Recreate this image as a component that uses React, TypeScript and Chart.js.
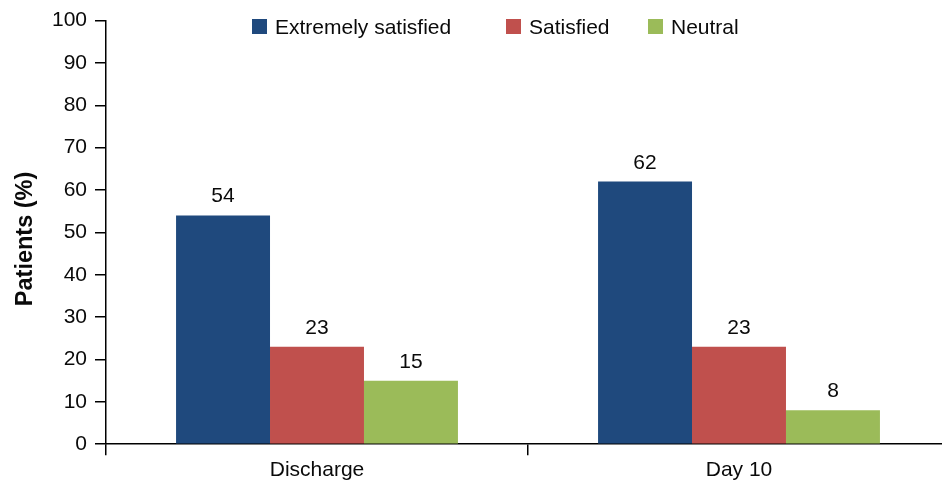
import React, { useEffect, useRef } from 'react';
import { Chart, registerables } from 'chart.js';

Chart.register(...registerables);

const FONT = '"Liberation Sans", Arial, Helvetica, sans-serif';

const CATEGORIES = ['Discharge', 'Day 10'];
const SERIES_NAMES = ['Extremely satisfied', 'Satisfied', 'Neutral'];
const EXTREMELY_SATISFIED = [54, 62];
const SATISFIED = [23, 23];
const NEUTRAL = [15, 8];
const SERIES_COLORS = ['#1F497D', '#C0504D', '#9BBB59'];
const Y_MIN = 0;
const Y_MAX = 100;
const Y_STEP = 10;
const Y_TITLE = 'Patients (%)';

const LEGEND_LEFT = [252, 506, 648];
const TEXT_COLOR = '#0a0a0a';

const valueLabels = {
  id: 'valueLabels',
  afterDatasetsDraw(chart: any) {
    const ctx = chart.ctx;
    ctx.save();
    ctx.font = `21px ${FONT}`;
    ctx.fillStyle = TEXT_COLOR;
    ctx.textAlign = 'center';
    ctx.textBaseline = 'alphabetic';
    chart.data.datasets.forEach((ds: any, i: number) => {
      const meta = chart.getDatasetMeta(i);
      meta.data.forEach((bar: any, j: number) => {
        ctx.fillText(String(ds.data[j]), bar.x, bar.y - 13);
      });
    });
    ctx.restore();
  },
};

export default function App() {
  const canvasRef = useRef<HTMLCanvasElement | null>(null);

  useEffect(() => {
    if (!canvasRef.current) return;
    const seriesData = [EXTREMELY_SATISFIED, SATISFIED, NEUTRAL];
    const chart = new Chart(canvasRef.current, {
      type: 'bar',
      data: {
        labels: CATEGORIES,
        datasets: SERIES_NAMES.map((name, i) => ({
          label: name,
          data: seriesData[i],
          backgroundColor: SERIES_COLORS[i],
          borderWidth: 0,
          categoryPercentage: 0.668,
          barPercentage: 1,
        })),
      },
      options: {
        responsive: false,
        animation: false,
        devicePixelRatio: 1,
        layout: { padding: { top: 19, left: 0, right: 0, bottom: 0 } },
        plugins: {
          legend: { display: false },
          tooltip: { enabled: false },
        },
        scales: {
          x: {
            grid: {
              display: true,
              drawOnChartArea: false,
              tickLength: 11,
              color: '#000',
              lineWidth: 1.5,
              offset: true,
            },
            border: { display: true, color: '#000', width: 1.5 },
            ticks: {
              color: TEXT_COLOR,
              font: { size: 21, family: FONT },
              padding: 2,
            },
            afterFit: (s: any) => {
              s.height = 38.8;
            },
          },
          y: {
            min: Y_MIN,
            max: Y_MAX,
            ticks: {
              stepSize: Y_STEP,
              color: TEXT_COLOR,
              font: { size: 21, family: FONT },
              padding: 8,
            },
            grid: {
              display: true,
              drawOnChartArea: false,
              tickLength: 11,
              color: '#000',
              lineWidth: 1.5,
            },
            border: { display: true, color: '#000', width: 1.5 },
            title: {
              display: true,
              text: Y_TITLE + '  ',
              color: TEXT_COLOR,
              font: { size: 23.5, weight: 'bold', family: FONT },
              padding: { top: 11, bottom: 0 },
            },
            afterFit: (s: any) => {
              s.width = 106;
            },
          },
        },
      },
      plugins: [valueLabels],
    } as any);
    return () => chart.destroy();
  }, []);

  return (
    <div
      style={{
        position: 'absolute',
        left: 0,
        top: 0,
        width: 942,
        height: 483,
        overflow: 'hidden',
        background: '#fff',
      }}
    >
      <canvas
        ref={canvasRef}
        width={950}
        height={483}
        style={{ position: 'absolute', left: 0, top: 0, width: 950, height: 483 }}
      />
      {SERIES_NAMES.map((name, i) => (
        <div
          key={name}
          style={{
            position: 'absolute',
            left: LEGEND_LEFT[i],
            top: 16,
            height: 21,
            display: 'flex',
            alignItems: 'center',
            fontFamily: FONT,
            fontSize: 21,
            lineHeight: '21px',
            color: TEXT_COLOR,
            whiteSpace: 'nowrap',
          }}
        >
          <span
            style={{
              display: 'inline-block',
              width: 15,
              height: 15,
              background: SERIES_COLORS[i],
              marginRight: 8,
            }}
          />
          <span>{name}</span>
        </div>
      ))}
    </div>
  );
}
